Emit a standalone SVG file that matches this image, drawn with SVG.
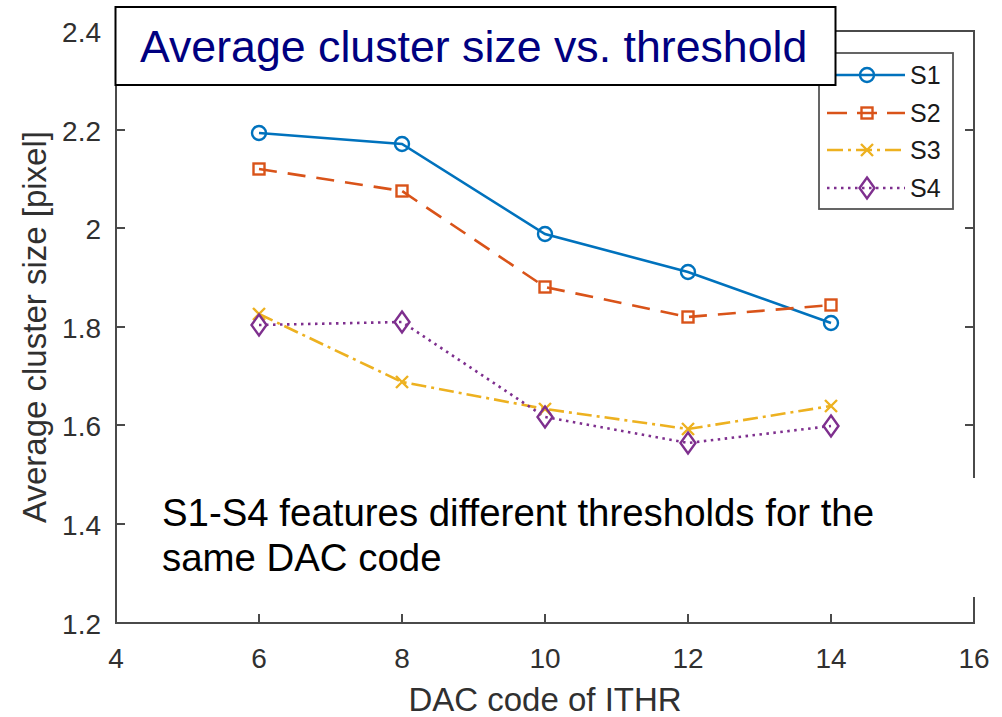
<svg xmlns="http://www.w3.org/2000/svg" xmlns:xlink="http://www.w3.org/1999/xlink" width="1002" height="717" viewBox="0 0 1002 717">
<style>
.ax{stroke:#4a4a4a;stroke-width:2;fill:none}
.tk{font-family:"Liberation Sans",Arial,sans-serif;font-size:28px;fill:#303030}
.lb{font-family:"Liberation Sans",Arial,sans-serif;font-size:33px;fill:#303030}
.lg{font-family:"Liberation Sans",Arial,sans-serif;font-size:25px;fill:#1a1a1a}
.s1{stroke:#0072BD;stroke-width:2.6;fill:none}
.s2{stroke:#D95319;stroke-width:2.6;fill:none;stroke-dasharray:18 11}
.s3{stroke:#EDB120;stroke-width:2.6;fill:none;stroke-dasharray:15 5 3 5}
.s4{stroke:#7E2F8E;stroke-width:2.6;fill:none;stroke-dasharray:2.5 4.5}
.m1{stroke:#0072BD;stroke-width:2.4;fill:none}
.m2{stroke:#D95319;stroke-width:2.4;fill:none}
.m3{stroke:#EDB120;stroke-width:2.4;fill:none}
.m4{stroke:#7E2F8E;stroke-width:2.4;fill:none}
</style>
<defs>
<circle id="mc" r="7" class="m1"/>
<rect id="ms" x="-5.5" y="-5.5" width="11" height="11" class="m2"/>
<path id="mx" d="M-6,-6L6,6M-6,6L6,-6" class="m3"/>
<path id="md" d="M0,-10.5L7.5,0L0,10.5L-7.5,0Z" class="m4"/>
</defs>
<rect width="1002" height="717" fill="#ffffff"/>
<g id="axes">
<path class="ax" d="M116,31V623H974V31H116"/>
<path class="ax" d="M116,524h9M116,425h9M116,327h9M116,228h9M116,130h9"/>
<path class="ax" d="M974,524h-9M974,425h-9M974,327h-9M974,228h-9M974,130h-9"/>
<path class="ax" d="M259,623v-9M402,623v-9M545,623v-9M688,623v-9M831,623v-9"/>
<path class="ax" d="M259,31v9M402,31v9M545,31v9M688,31v9M831,31v9"/>
</g>
<g id="ytick-labels" class="tk" text-anchor="end">
<text x="101" y="634">1.2</text>
<text x="101" y="535">1.4</text>
<text x="101" y="436">1.6</text>
<text x="101" y="338">1.8</text>
<text x="101" y="239">2</text>
<text x="101" y="141">2.2</text>
<text x="101" y="42">2.4</text>
</g>
<g id="xtick-labels" class="tk" text-anchor="middle">
<text x="116" y="668">4</text>
<text x="259" y="668">6</text>
<text x="402" y="668">8</text>
<text x="545" y="668">10</text>
<text x="688" y="668">12</text>
<text x="831" y="668">14</text>
<text x="974" y="668">16</text>
</g>
<text id="xlabel" class="lb" x="545" y="711" text-anchor="middle">DAC code of ITHR</text>
<text id="ylabel" class="lb" transform="translate(46,327) rotate(-90)" text-anchor="middle">Average cluster size [pixel]</text>
<g id="connectors">
<polyline class="s1" points="259,133 402,144 545,234 688,272 831,323"/>
<polyline class="s2" points="259,169 402,191 545,287 688,317 831,305"/>
<polyline class="s3" points="259,314 402,382 545,409 688,429 831,406"/>
<polyline class="s4" points="259,325 402,322 545,417 688,443 831,426"/>
</g>
<g id="series-S1">
<use xlink:href="#mc" x="259" y="133"/><use xlink:href="#mc" x="402" y="144"/><use xlink:href="#mc" x="545" y="234"/><use xlink:href="#mc" x="688" y="272"/><use xlink:href="#mc" x="831" y="323"/>
</g>
<g id="series-S2">
<use xlink:href="#ms" x="259" y="169"/><use xlink:href="#ms" x="402" y="191"/><use xlink:href="#ms" x="545" y="287"/><use xlink:href="#ms" x="688" y="317"/><use xlink:href="#ms" x="831" y="305"/>
</g>
<g id="series-S3">
<use xlink:href="#mx" x="259" y="314"/><use xlink:href="#mx" x="402" y="382"/><use xlink:href="#mx" x="545" y="409"/><use xlink:href="#mx" x="688" y="429"/><use xlink:href="#mx" x="831" y="406"/>
</g>
<g id="series-S4">
<use xlink:href="#md" x="259" y="325"/><use xlink:href="#md" x="402" y="322"/><use xlink:href="#md" x="545" y="417"/><use xlink:href="#md" x="688" y="443"/><use xlink:href="#md" x="831" y="426"/>
</g>
<g id="legend">
<rect x="819" y="53" width="134" height="156" fill="#ffffff" stroke="#555555" stroke-width="1.8"/>
<line class="s1" x1="827" y1="75" x2="905" y2="75"/><use xlink:href="#mc" x="867" y="75"/>
<text class="lg" x="910" y="84">S1</text>
<line class="s2" x1="827" y1="113" x2="905" y2="113" style="stroke-dasharray:20 10"/><use xlink:href="#ms" x="867" y="113"/>
<text class="lg" x="910" y="122">S2</text>
<line class="s3" x1="827" y1="150" x2="905" y2="150" style="stroke-dasharray:16 5 3 5"/><use xlink:href="#mx" x="867" y="150"/>
<text class="lg" x="910" y="159">S3</text>
<line class="s4" x1="827" y1="188" x2="905" y2="188"/><use xlink:href="#md" x="867" y="188"/>
<text class="lg" x="910" y="197">S4</text>
</g>
<g id="title">
<rect x="115.5" y="7" width="720" height="78" fill="#ffffff" stroke="#000000" stroke-width="2"/>
<text x="140" y="62" font-family="'Liberation Sans',Arial,sans-serif" font-size="44.7" fill="#000080">Average cluster size vs. threshold</text>
</g>
<g id="note">
<rect x="140" y="478" width="862" height="119" fill="#ffffff"/>
<text font-family="'Liberation Sans',Arial,sans-serif" font-size="38.4" fill="#000000"><tspan x="162" y="526">S1-S4 features different thresholds for the</tspan><tspan x="162" y="571">same DAC code</tspan></text>
</g>
</svg>
